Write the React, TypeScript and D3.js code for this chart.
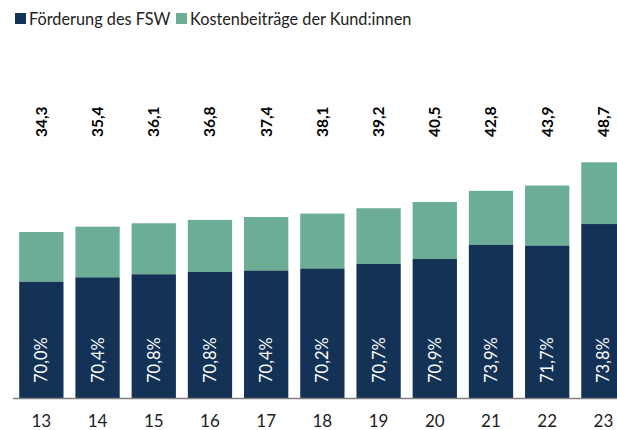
import React from "react";
import * as d3 from "d3";

const categories = ["13", "14", "15", "16", "17", "18", "19", "20", "21", "22", "23"];
const totals = [34.3, 35.4, 36.1, 36.8, 37.4, 38.1, 39.2, 40.5, 42.8, 43.9, 48.7];
const fswShare = [70.0, 70.4, 70.8, 70.8, 70.4, 70.2, 70.7, 70.9, 73.9, 71.7, 73.8];
const seriesNames = ["Förderung des FSW", "Kostenbeiträge der Kund:innen"];
const colors = ["#133256", "#6bae95"];

const fmt = (v: number) => v.toFixed(1).replace(".", ",");

export default function App() {
  const W = 617;
  const H = 430;
  const baseY = 398;
  const x = d3
    .scaleBand<string>()
    .domain(categories)
    .range([13.25, 631.5])
    .paddingInner(0.212)
    .paddingOuter(0.106);
  const y = d3.scaleLinear().domain([0, 50]).range([baseY, baseY - 50 * 4.84]);
  const font = "Lato, 'Open Sans', sans-serif";

  return (
    <svg
      width={W}
      height={H}
      style={{ position: "absolute", left: 0, top: 0, background: "#fff" }}
      fontFamily={font}
    >
      {/* legend */}
      <rect x={15} y={13} width={11} height={11} fill={colors[0]} />
      <text x={29} y={24.5} fontSize={16.3} fill="#222">
        {seriesNames[0]}
      </text>
      <rect x={176} y={13} width={11} height={11} fill={colors[1]} />
      <text x={190} y={24.5} fontSize={16.3} fill="#222">
        {seriesNames[1]}
      </text>

      {categories.map((c, i) => {
        const bx = x(c)!;
        const bw = x.bandwidth();
        const fsw = (totals[i] * fswShare[i]) / 100;
        const cx = bx + bw / 2;
        return (
          <g key={c}>
            <rect x={bx} y={y(totals[i])} width={bw} height={y(fsw) - y(totals[i])} fill={colors[1]} />
            <rect x={bx} y={y(fsw)} width={bw} height={baseY - y(fsw)} fill={colors[0]} />
            <text
              transform={`translate(${cx + 5.5},137) rotate(-90)`}
              fontSize={15.5}
              fontWeight="bold"
              fill="#000"
            >
              {fmt(totals[i])}
            </text>
            <text
              transform={`translate(${cx + 6},383) rotate(-90)`}
              fontSize={16.5}
              fill="#fff"
            >
              {fmt(fswShare[i]) + "%"}
            </text>
            <text x={cx} y={426.5} fontSize={17} textAnchor="middle" fill="#222">
              {c}
            </text>
          </g>
        );
      })}
      <line x1={13} x2={W} y1={baseY + 0.5} y2={baseY + 0.5} stroke="#7f7f7f" strokeWidth={1.5} />
    </svg>
  );
}
